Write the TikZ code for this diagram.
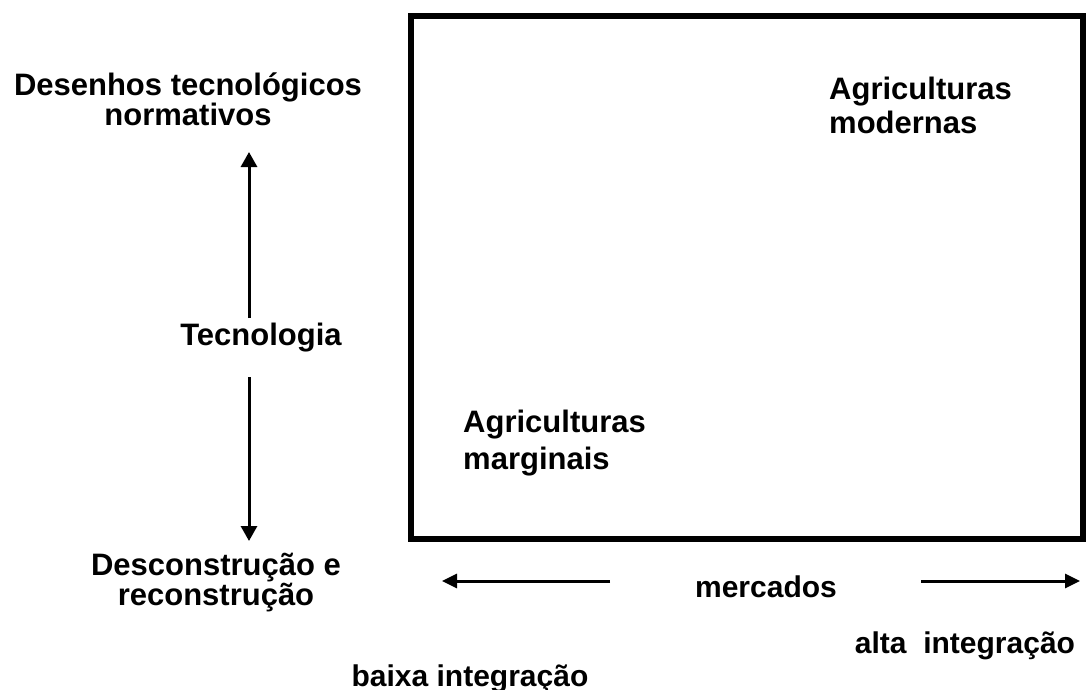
\documentclass[tikz,border=0pt]{standalone}
\usepackage{fontspec}
\setmainfont{Liberation Sans}
\usepackage{tikz}
\usetikzlibrary{arrows.meta,positioning}

\begin{document}
\begin{tikzpicture}[x=1pt,y=1pt,
  lbl/.style={font=\bfseries\fontsize{30}{36}\selectfont, inner sep=0pt, anchor=base},
  lblL/.style={font=\bfseries\fontsize{31}{29}\selectfont, inner sep=0pt, anchor=base, align=center},
  upar/.style={line width=3pt, -{Triangle[width=16pt,length=15pt]}},
  sidear/.style={line width=3pt, -{Triangle[width=14pt,length=15pt]}}]
\useasboundingbox (0,0) rectangle (1089,-690);
\draw[line width=6pt] (411,-16) rectangle (1083,-539);
\node[lblL] (desenhos) at (188,-126) {Desenhos tecnológicos\\normativos};
\node[lblL] (tecno) at (261,-345) {Tecnologia};
\node[lblL,font=\bfseries\fontsize{31}{30}\selectfont] (descon) at (216,-605) {Desconstrução e\\reconstrução};
\coordinate (upS) at (249,-318);
\coordinate (upE) at (249,-152);
\coordinate (dnS) at (249,-377);
\coordinate (dnE) at (249,-541);
\draw[upar] (upS) -- (upE);
\draw[upar] (dnS) -- (dnE);
\node[lbl,anchor=base west,align=left,font=\bfseries\fontsize{31}{37}\selectfont] (marginais) at (463,-469) {Agriculturas\\marginais};
\node[lbl,anchor=base west,align=left,font=\bfseries\fontsize{31}{35}\selectfont] (modernas) at (829,-134) {Agriculturas\\modernas};
\node[lbl] (mercados) at (766,-597) {mercados};
\coordinate (esqS) at (610,-581);
\coordinate (esqE) at (442,-581);
\coordinate (dirS) at (921,-581);
\coordinate (dirE) at (1080,-581);
\draw[sidear] (esqS) -- (esqE);
\draw[sidear] (dirS) -- (dirE);
\node[lbl] (alta) at (965,-653) {alta~~integração};
\node[lbl] (baixa) at (470,-686) {baixa integração};
\end{tikzpicture}
\end{document}
